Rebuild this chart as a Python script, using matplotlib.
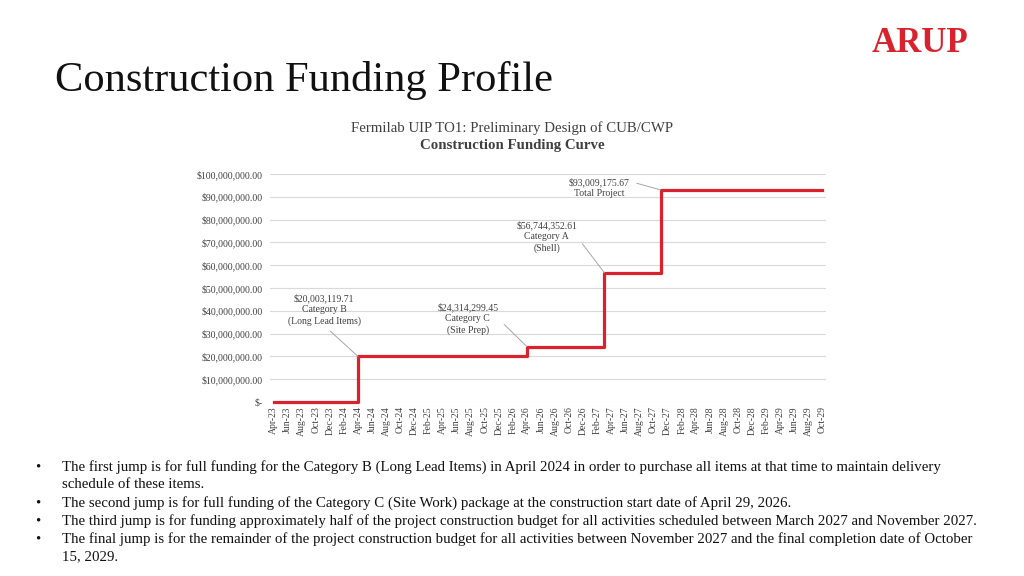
import numpy as np
import pandas as pd
import matplotlib
matplotlib.use("Agg")
import matplotlib.pyplot as plt

# Data
months = [d.strftime("%b-%y") for d in pd.date_range("2023-04-01", "2029-10-01", freq="MS")]
step_months = ["Apr-23", "Apr-24", "Apr-26", "Mar-27", "Nov-27", "Oct-29"]
step_values = [0, 20003119.71, 24314299.45, 56744352.61, 93009175.67, 93009175.67]
y_ticks = np.arange(0, 100000001, 10000000)

notes = [
    ("$20,003,119.71\nCategory B\n(Long Lead Items)", "Apr-24", 20003119.71),
    ("$24,314,299.45\nCategory C\n(Site Prep)", "Apr-26", 24314299.45),
    ("$56,744,352.61\nCategory A\n(Shell)", "Mar-27", 56744352.61),
    ("$93,009,175.67\nTotal Project", "Nov-27", 93009175.67),
]

bullets = [
    "The first jump is for full funding for the Category B (Long Lead Items) in April 2024 in order to purchase all items at that time to maintain delivery\nschedule of these items.",
    "The second jump is for full funding of the Category C (Site Work) package at the construction start date of April 29, 2026.",
    "The third jump is for funding approximately half of the project construction budget for all activities scheduled between March 2027 and November 2027.",
    "The final jump is for the remainder of the project construction budget for all activities between November 2027 and the final completion date of October\n15, 2029.",
]

plt.rcParams["font.family"] = ["Liberation Serif", "DejaVu Serif"]
RED = "#d8232f"
GREY = "#404040"

W, H = 1024, 576
fig = plt.figure(figsize=(W / 100, H / 100), dpi=100)

def fx(px):
    return px / W

def fy(py):
    return 1 - py / H

# header
fig.text(fx(55), fy(80), "Construction Funding Profile", fontsize=30.6, va="center", ha="left", color="#111111")
fig.text(fx(920), fy(44), "ARUP", fontsize=25, fontweight="bold", color=RED, ha="center", va="center")
fig.text(0.5, fy(128), "Fermilab UIP TO1: Preliminary Design of CUB/CWP", fontsize=10.7, ha="center", va="center", color=GREY)
fig.text(0.5, fy(145), "Construction Funding Curve", fontsize=10.7, fontweight="bold", ha="center", va="center", color=GREY)

# chart
ax = fig.add_axes([fx(270), fy(402), fx(826) - fx(270), fy(174) - fy(402)])
idx = [months.index(m) for m in step_months]
ax.step(idx, step_values, where="post", color=RED, lw=2.3, clip_on=False, zorder=3)

ax.set_xlim(-0.5, len(months) - 0.5)
ax.set_ylim(0, 100000000)
ax.set_yticks(y_ticks)
ax.set_yticklabels(["$-"] + [f"${v:,.2f}" for v in y_ticks[1:]], fontsize=7, color=GREY)
ax.set_xticks(range(0, len(months), 2))
ax.set_xticklabels(months[::2], rotation=90, fontsize=7, color=GREY)
ax.tick_params(axis="x", length=0, pad=3)
ax.tick_params(axis="y", length=0, pad=5.5)
ax.grid(axis="y", color="#d9d9d9", lw=0.8)
ax.set_axisbelow(True)
for s in ax.spines.values():
    s.set_visible(False)

# annotations (text positions in month index / dollars)
text_pos = [(7.2, 40.5e6), (27.6, 36.5e6), (38.8, 72.5e6), (46.3, 94.1e6)]
relpos = [(0.5, 0.0), (1.0, 0.5), (1.0, 0.5), (1.0, 0.8)]
for (txt, m, v), tp, rp in zip(notes, text_pos, relpos):
    ax.annotate(txt, xy=(months.index(m), v), xytext=tp, textcoords="data",
                ha="center", va="center", fontsize=7, color=GREY, linespacing=1.25,
                arrowprops=dict(arrowstyle="-", color="#a6a6a6", lw=0.7, relpos=rp,
                                shrinkA=3, shrinkB=0, connectionstyle="arc3"),
                annotation_clip=False)

# bullets
y0 = 467
for b in bullets:
    fig.text(fx(35), fy(y0), "\u2022", fontsize=10.7, va="center", ha="left", color="#111111")
    for line in b.split("\n"):
        fig.text(fx(62), fy(y0), line, fontsize=10.7, va="center", ha="left", color="#111111")
        y0 += 18

fig.savefig("out.png", dpi=100)
